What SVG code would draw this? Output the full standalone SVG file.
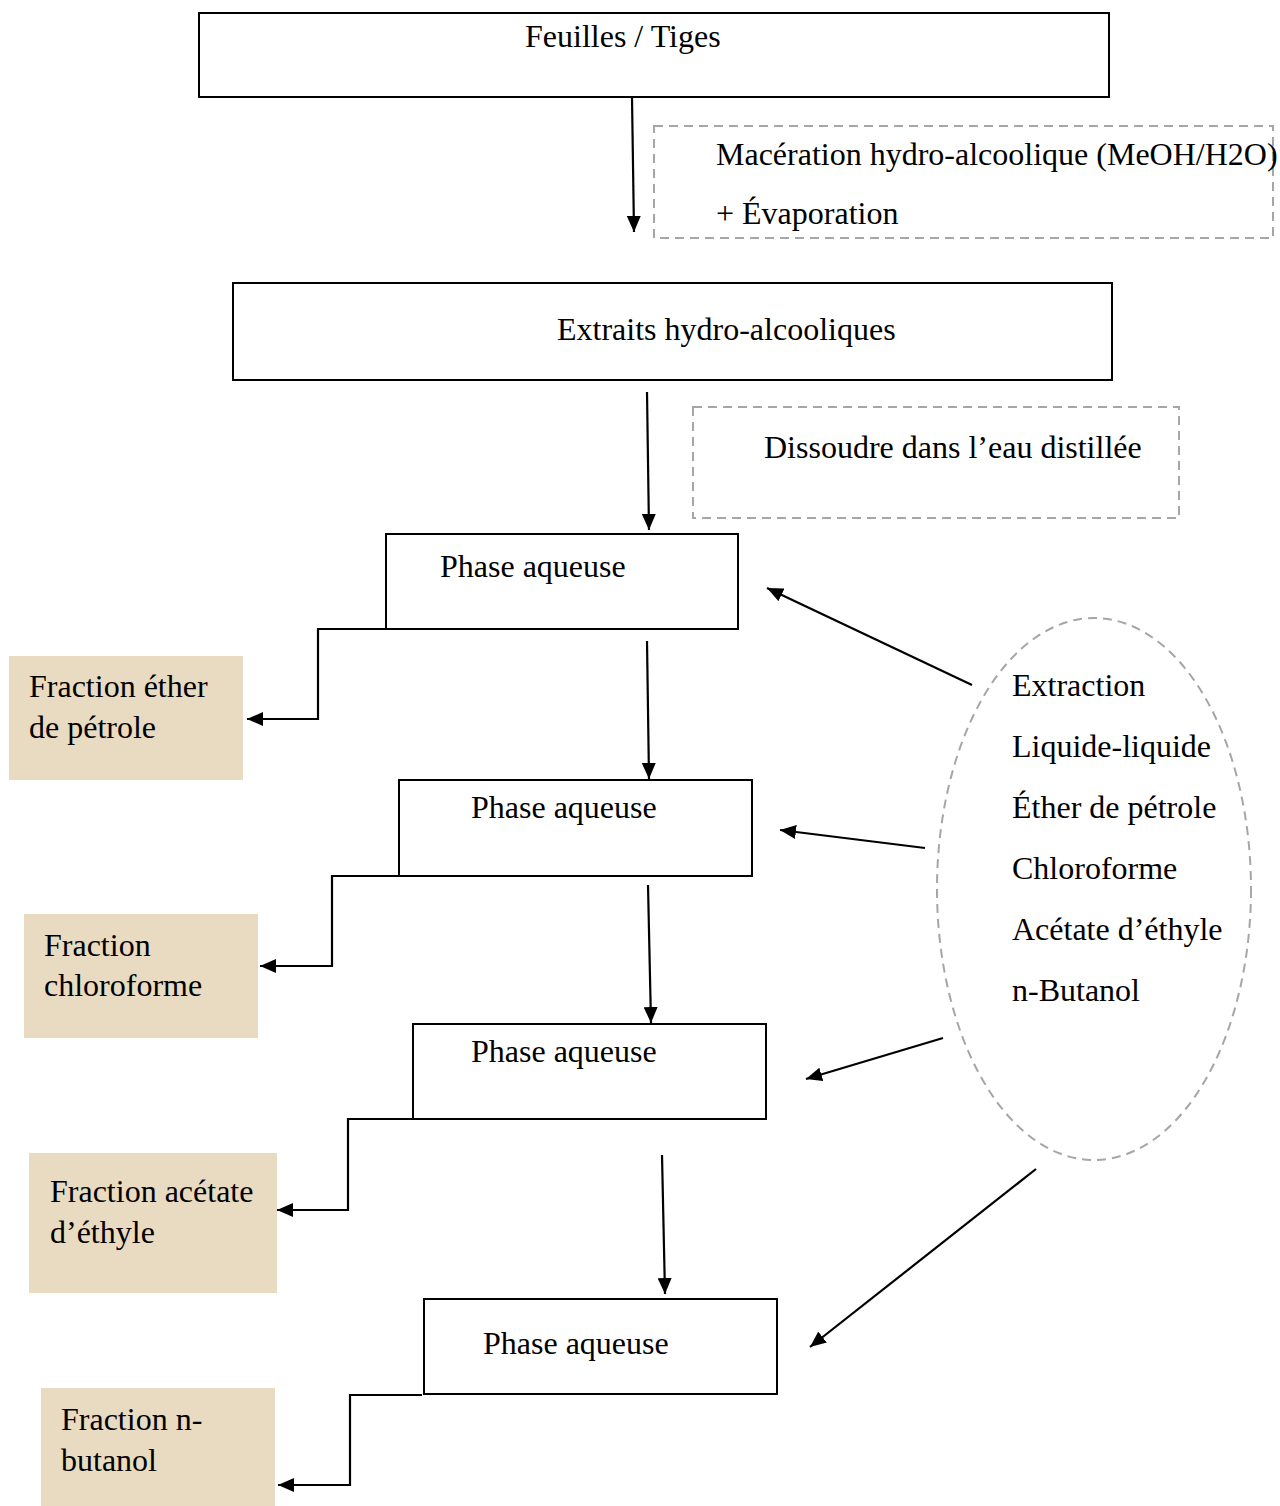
<svg xmlns="http://www.w3.org/2000/svg" width="1280" height="1506" viewBox="0 0 1280 1506">
<style>
text{font-family:"Liberation Serif","Times New Roman",serif;font-size:32px;fill:#000}
.box{fill:#fff;stroke:#000;stroke-width:2}
.dash{fill:none;stroke:#a6a6a6;stroke-width:2;stroke-dasharray:9,6}
.frac{fill:#e9dbc1;stroke:none}
.conn{fill:none;stroke:#000;stroke-width:2.2}
</style>
<defs>
<marker id="ah" markerUnits="userSpaceOnUse" markerWidth="18" markerHeight="14" refX="16" refY="7" orient="auto">
<path d="M0,0 L16,7 L0,14 Z" fill="#000"/>
</marker>
</defs>
<rect width="1280" height="1506" fill="#fff"/>
<g id="feuilles"><rect class="box" x="199" y="13" width="910" height="84"/><text x="525" y="47">Feuilles / Tiges</text></g>
<g id="maceration"><rect class="dash" x="654" y="126" width="619" height="112"/><text x="716" y="165">Macération hydro-alcoolique (MeOH/H2O)</text><text x="716" y="224">+ Évaporation</text></g>
<g id="extraits"><rect class="box" x="233" y="283" width="879" height="97"/><text x="557" y="340">Extraits hydro-alcooliques</text></g>
<g id="dissoudre"><rect class="dash" x="693" y="407" width="486" height="111"/><text x="764" y="458">Dissoudre dans l’eau distillée</text></g>
<g id="phase1"><rect class="box" x="386" y="534" width="352" height="95"/><text x="440" y="577">Phase aqueuse</text></g>
<g id="phase2"><rect class="box" x="399" y="780" width="353" height="96"/><text x="471" y="818">Phase aqueuse</text></g>
<g id="phase3"><rect class="box" x="413" y="1024" width="353" height="95"/><text x="471" y="1062">Phase aqueuse</text></g>
<g id="phase4"><rect class="box" x="424" y="1299" width="353" height="95"/><text x="483" y="1354">Phase aqueuse</text></g>
<g id="frac1"><rect class="frac" x="9" y="656" width="234" height="124"/><text x="29" y="697">Fraction éther</text><text x="29" y="738">de pétrole</text></g>
<g id="frac2"><rect class="frac" x="24" y="914" width="234" height="124"/><text x="44" y="956">Fraction</text><text x="44" y="996">chloroforme</text></g>
<g id="frac3"><rect class="frac" x="29" y="1153" width="248" height="140"/><text x="50" y="1202">Fraction acétate</text><text x="50" y="1243">d’éthyle</text></g>
<g id="frac4"><rect class="frac" x="41" y="1388" width="234" height="118"/><text x="61" y="1430">Fraction n-</text><text x="61" y="1471">butanol</text></g>
<g id="extraction"><ellipse class="dash" cx="1094" cy="889" rx="157" ry="271"/>
<text x="1012" y="696">Extraction</text><text x="1012" y="757">Liquide-liquide</text><text x="1012" y="818">Éther de pétrole</text><text x="1012" y="879">Chloroforme</text><text x="1012" y="940">Acétate d’éthyle</text><text x="1012" y="1001">n-Butanol</text></g>
<g id="connectors">
<path class="conn" d="M632,97 L634,232" marker-end="url(#ah)"/>
<path class="conn" d="M647,392 L649,530" marker-end="url(#ah)"/>
<path class="conn" d="M647,641 L649,779" marker-end="url(#ah)"/>
<path class="conn" d="M648,885 L651,1023" marker-end="url(#ah)"/>
<path class="conn" d="M662,1155 L665,1294" marker-end="url(#ah)"/>
<path class="conn" d="M386,629 L318,629 L318,719 L247,719" marker-end="url(#ah)"/>
<path class="conn" d="M399,876 L332,876 L332,966 L260,966" marker-end="url(#ah)"/>
<path class="conn" d="M413,1119 L348,1119 L348,1210 L277,1210" marker-end="url(#ah)"/>
<path class="conn" d="M422,1395 L350,1395 L350,1485 L278,1485" marker-end="url(#ah)"/>
<path class="conn" d="M972,685 L767,588" marker-end="url(#ah)"/>
<path class="conn" d="M925,848 L780,830" marker-end="url(#ah)"/>
<path class="conn" d="M943,1038 L806,1079" marker-end="url(#ah)"/>
<path class="conn" d="M1036,1169 L810,1347" marker-end="url(#ah)"/>
</g>
</svg>
